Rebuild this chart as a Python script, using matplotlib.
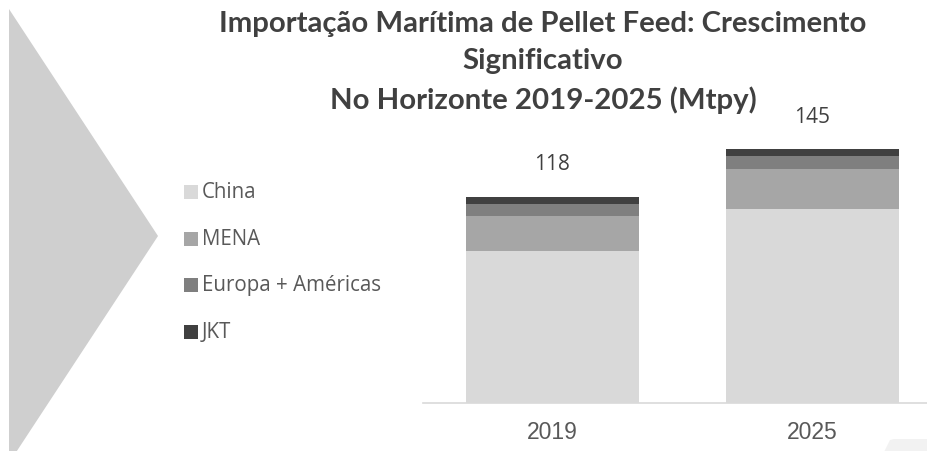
import matplotlib
matplotlib.use("Agg")
import matplotlib.pyplot as plt
from matplotlib.patches import Polygon, Rectangle

# ---- data ----
years = ["2019", "2025"]
series_names = ["China", "MENA", "Europa + Américas", "JKT"]
china = [87, 111]
mena = [20, 23]
europa_americas = [7, 7]
jkt = [4, 4]
totals = [118, 145]
title_lines = ["Importação Marítima de Pellet Feed: Crescimento",
               "Significativo",
               "No Horizonte 2019-2025 (Mtpy)"]

colors = ["#D9D9D9", "#A6A6A6", "#7F7F7F", "#404040"]
W, H = 928, 452
fig = plt.figure(figsize=(W / 100, H / 100), dpi=100)

def fx(px):
    return px / W

def fy(py):
    return 1 - py / H

# background decorative triangle
tri = Polygon([(fx(9), fy(10)), (fx(158), fy(237)), (fx(9), fy(464))],
              closed=True, transform=fig.transFigure, facecolor="#CFCFCF",
              edgecolor="none", zorder=0)
fig.patches.append(tri)
corner = Polygon([(fx(884), fy(453)), (fx(890), fy(441)), (fx(894), fy(440)),
                  (fx(929), fy(440)), (fx(929), fy(453))],
                 closed=True, transform=fig.transFigure, facecolor="#F2F2F2",
                 edgecolor="none", zorder=0)
fig.patches.append(corner)

# axes: baseline at y=404 px, 1.75 px per unit, categories 260 px apart
ymax = 160
ax_bottom_px = 404
ax_top_px = 404 - 1.75 * ymax
ax_left_px = 422.5
ax_right_px = 942.5
ax = fig.add_axes([fx(ax_left_px), fy(ax_bottom_px), (ax_right_px - ax_left_px) / W,
                   (ax_bottom_px - ax_top_px) / H])
ax.set_xlim(-0.5, 1.5)
ax.set_ylim(0, ymax)
ax.patch.set_alpha(0)

x = [0, 1]
bw = 173 / 260
stack = [china, mena, europa_americas, jkt]
bottom = [0, 0]
for vals, c, name in zip(stack, colors, series_names):
    ax.bar(x, vals, bw, bottom=bottom, color=c, label=name, zorder=2)
    bottom = [b + v for b, v in zip(bottom, vals)]

for xi, t, top in zip(x, totals, bottom):
    ax.annotate(str(t), (xi, top), xytext=(0, 33), textcoords="offset pixels",
                ha="center", va="center", fontsize=15, color="#404040",
                family="Open Sans")

for s in ["top", "right", "left"]:
    ax.spines[s].set_visible(False)
ax.spines["bottom"].set_color("#D9D9D9")
ax.spines["bottom"].set_linewidth(1.2)
ax.set_yticks([])
ax.set_xticks(x)
ax.set_xticklabels(years, fontsize=16.5, color="#595959", family="Liberation Sans")
ax.tick_params(axis="x", length=0, pad=12)

# legend (manual, left)
leg_y = [193, 239.5, 286, 333]
for name, c, yy in zip(series_names, colors, leg_y):
    fig.patches.append(Rectangle((fx(184), fy(yy + 7)), 14 / W, 14 / H,
                                 transform=fig.transFigure, facecolor=c,
                                 edgecolor="none"))
    fig.text(fx(202), fy(yy), name, ha="left", va="center", fontsize=14.8,
             color="#595959", family="Open Sans")

# title
for line, yy in zip(title_lines, [24, 61, 100]):
    fig.text(fx(543), fy(yy), line, ha="center", va="center", fontsize=21.2,
             fontweight="bold", color="#404040", family="Lato")

fig.savefig("out.png", dpi=100)
